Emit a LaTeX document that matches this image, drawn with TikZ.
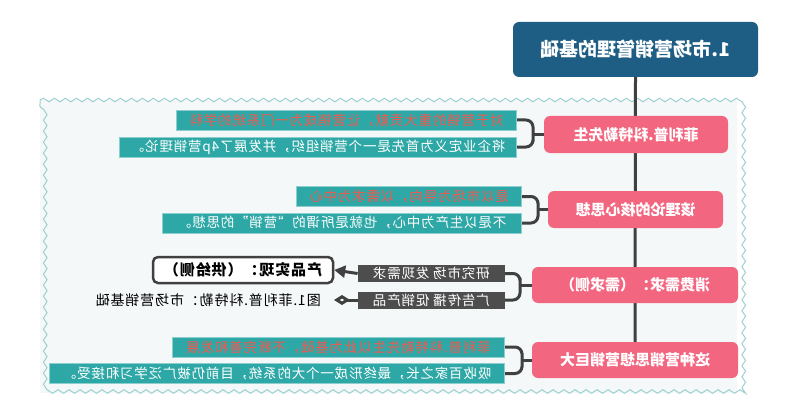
\documentclass[tikz,border=0pt]{standalone}
\usepackage{fontspec}
\newfontfamily\cjk{Noto Sans CJK SC}
\newfontfamily\cjks[LetterSpace=6]{Noto Sans CJK SC}
\usetikzlibrary{arrows.meta,decorations.pathmorphing}
\newcommand\mir[1]{\scalebox{-1}[1]{#1}}
\definecolor{tealc}{HTML}{2EA8A6}
\definecolor{pinkc}{HTML}{F26680}
\definecolor{titlec}{HTML}{1E5E84}
\definecolor{redt}{HTML}{F2584F}
\definecolor{linec}{HTML}{404040}
\definecolor{grayc}{HTML}{4D4D4D}
\definecolor{framef}{HTML}{F4F8F9}
\definecolor{framed}{HTML}{9CD0D0}
\begin{document}
\begin{tikzpicture}[x=1pt,y=-1pt,
  titlebox/.style={fill=titlec, rounded corners=6, text=white, font=\cjk\bfseries\fontsize{19}{22}\selectfont, minimum width=245, minimum height=55, inner sep=0},
  pinkbox/.style={fill=pinkc, rounded corners=6, text=white, font=\cjk\bfseries\fontsize{15}{18}\selectfont, minimum height=37, inner sep=0},
  tealbox/.style={fill=tealc, draw=tealc!55!white, line width=0.8, text=white, font=\cjks\fontsize{13.5}{16}\selectfont, minimum height=20, inner sep=0, anchor=east},
  graybox/.style={fill=grayc, text=white, font=\cjks\fontsize{13.5}{16}\selectfont, minimum height=17, minimum width=147, inner sep=0, anchor=east},
  prodbox/.style={draw=linec, line width=2.5, fill=white, rounded corners=5, font=\cjks\bfseries\fontsize{15}{18}\selectfont, minimum width=180, minimum height=26, inner sep=0},
  captext/.style={font=\cjks\fontsize{14}{17}\selectfont, inner sep=1, anchor=east},
  conn/.style={draw=linec, line width=3},
  bracket/.style={draw=linec, line width=3, rounded corners=7}
]
\useasboundingbox[fill=white] (0,0) rectangle (800,417);
% frame
\fill[framef] (40,100) rectangle (737,393);
\draw[framed, line width=1, decorate, decoration={snake, segment length=11, amplitude=1.8}] (40,100) -- (737,100) -- (737,393) -- (40,393) -- cycle;

% main nodes
\node[titlebox] (title) at (635.5,49.5) {\mir{1.市场营销管理的基础}};
\coordinate (mainend) at (635,360);
\draw[conn] (title.south) -- (mainend);
\node[pinkbox, minimum width=184] (p1) at (636,134.5) {\mir{菲利普.科特勒先生}};
\node[pinkbox, minimum width=175] (p2) at (635.5,209.5) {\mir{该理论的核心思想}};
\node[pinkbox, minimum width=206, minimum height=36] (p3) at (635,285) {\mir{消费需求：（需求侧）}};
\node[pinkbox, minimum width=206, minimum height=36] (p4) at (635,360) {\mir{这种营销思想营销巨大}};

% branch 1
\node[tealbox, minimum width=340, text=redt] (a1) at (517,120) {\mir{对于营销的重大贡献，让营销成为一门系统的学科}};
\node[tealbox, minimum width=397] (b1) at (517,147) {\mir{将企业定义为首先是一个营销组织，并发展了4p营销理论。}};
\coordinate (j1) at (533,134.5);
\draw[conn] (p1.west) -- (j1);
\draw[bracket] (a1.east) -| (j1) |- (b1.east);

% branch 2
\node[tealbox, minimum width=225, text=redt] (a2) at (522,196.5) {\mir{是以市场为导向，以需求为中心}};
\node[tealbox, minimum width=359] (b2) at (522,223) {\mir{不是以生产为中心，也就是所谓的“营销”的思想。}};
\coordinate (j2) at (538,209.5);
\draw[conn] (p2.west) -- (j2);
\draw[bracket] (a2.east) -| (j2) |- (b2.east);

% branch 3
\node[graybox] (g1) at (505,273.5) {\mir{研究市场\ 发现需求}};
\node[graybox] (g2) at (505,300) {\mir{广告传播\ 促销产品}};
\coordinate (j3) at (520,285);
\draw[conn] (p3.west) -- (j3);
\draw[bracket] (g1.east) -| (j3) |- (g2.east);
\node[prodbox] (prod) at (243,270) {\mir{产品实现：（供给侧）}};
\node[captext] (cap) at (322,300) {\mir{图1.菲利普.科特勒：市场营销基础}};
\draw[conn, -{Triangle[length=11, width=12]}] (g1.west) -- (prod.east);
\draw[conn, shorten >=12, -{Diamond[length=16, width=10, open, fill=white]}] (g2.west) -- (cap.east);

% branch 4
\node[tealbox, minimum width=332, text=redt] (a4) at (505,347) {\mir{菲利普.科特勒先生以此为基础，不断完善和发展}};
\node[tealbox, minimum width=455] (b4) at (505,373.5) {\mir{吸收百家之长，最终形成一个大的系统，目前仍被广泛学习和接受。}};
\coordinate (j4) at (522,360);
\draw[conn] (p4.west) -- (j4);
\draw[bracket] (a4.east) -| (j4) |- (b4.east);
\end{tikzpicture}
\end{document}
